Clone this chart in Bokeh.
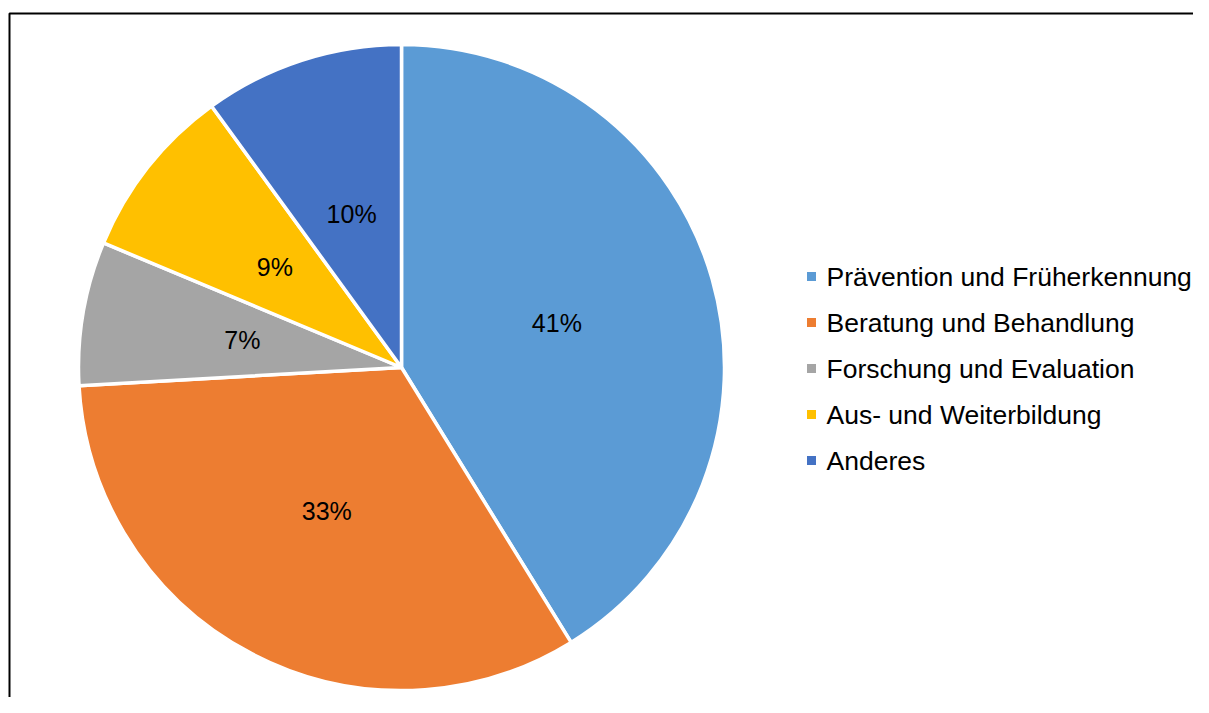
import math
from bokeh.plotting import figure
from bokeh.models import Range1d, ColumnDataSource
from bokeh.core.properties import value
from bokeh.embed import file_html
from bokeh.resources import INLINE

categories = ["Prävention und Früherkennung", "Beratung und Behandlung",
              "Forschung und Evaluation", "Aus- und Weiterbildung", "Anderes"]
shares = [41.2, 32.9, 7.2, 8.7, 10.0]
colors = ["#5B9BD5", "#ED7D31", "#A5A5A5", "#FFC000", "#4472C4"]

W, H = 1193, 697
CX, CY_TOP, R = 401, 367, 323
CY = H - CY_TOP

total = sum(shares)
starts, ends, lx, ly, labels = [], [], [], [], []
cum = 0.0
for s in shares:
    a0 = math.pi / 2 - 2 * math.pi * cum / total
    a1 = math.pi / 2 - 2 * math.pi * (cum + s) / total
    starts.append(a0)
    ends.append(a1)
    mid = (a0 + a1) / 2
    lx.append(CX + 0.5 * R * math.cos(mid))
    ly.append(CY + 0.5 * R * math.sin(mid))
    labels.append(f"{round(s / total * 100)}%")
    cum += s

src = ColumnDataSource(dict(start=starts, end=ends, color=colors, lx=lx, ly=ly,
                            label=labels, cat=categories))

p = figure(width=W, height=H, output_backend="svg", toolbar_location=None,
           x_range=Range1d(0, W), y_range=Range1d(0, H), min_border=0)
p.axis.visible = False
p.grid.visible = False
p.outline_line_color = None
p.background_fill_color = "white"
p.border_fill_color = "white"

# chart frame (left and top edges visible)
p.line(x=[9, 9, W + 50], y=[-50, H - 13, H - 13], line_color="black", line_width=2)

p.wedge(x=CX, y=CY, radius=R, start_angle="start", end_angle="end",
        direction="clock", fill_color="color", line_color="white",
        line_width=3.5, source=src)

p.text(x="lx", y="ly", text="label", source=src, text_align="center",
       text_baseline="middle", text_font=value("Liberation Sans"),
       text_font_size=value("25px"), text_color="black")

# legend
LEG_X, LEG_Y0, LEG_DY = 811, 276, 46
leg_y = [H - (LEG_Y0 + i * LEG_DY) for i in range(len(categories))]
leg = ColumnDataSource(dict(x=[LEG_X] * len(categories), tx=[LEG_X + 15] * len(categories),
                            y=leg_y, color=colors, cat=categories))
p.scatter(x="x", y="y", marker="square", size=9, fill_color="color",
          line_color=None, source=leg)
p.text(x="tx", y="y", text="cat", source=leg, text_align="left",
       text_baseline="middle", text_font=value("Liberation Sans"),
       text_font_size=value("26.5px"), text_color="black")

open("out.html", "w").write(file_html(p, INLINE))
